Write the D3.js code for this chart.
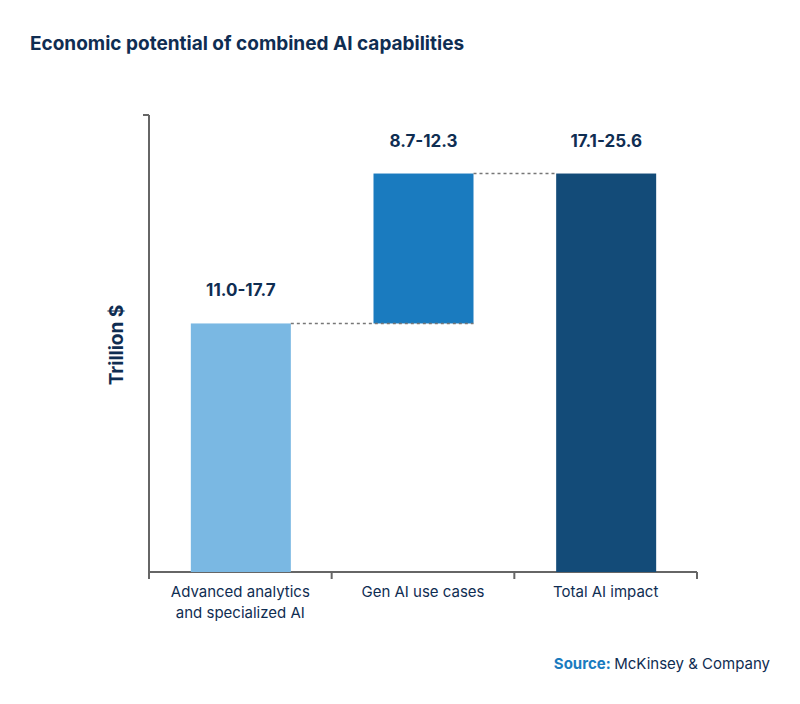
<!DOCTYPE html>
<html><head><meta charset="utf-8">
<script src="https://cdn.jsdelivr.net/npm/d3@7"></script>
<style>body{margin:0;background:#fff}</style></head>
<body><svg id="c" width="800" height="704"></svg>
<script>
const categories = ["Advanced analytics|and specialized AI", "Gen AI use cases", "Total AI impact"];
const values = [15.5, 9.35, null];
const rangeLabels = ["11.0-17.7", "8.7-12.3", "17.1-25.6"];
const colors = ["#7ab8e3", "#1a7bbf", "#134b78"];
const navy = "#0f2d52";
const font = "Inter, 'Noto Sans', sans-serif";

const svg = d3.select("#c");
const m = {l:149, r:697, t:115, b:572};
const x = d3.scaleBand().domain(categories).range([m.l, m.r]).paddingInner(0);
const y = d3.scaleLinear().domain([0, 28.5]).range([m.b, m.t]);

let cum = 0;
const bars = categories.map((c,i)=>{
  let y0, y1;
  if (values[i] === null) { y0 = 0; y1 = cum; }
  else { y0 = cum; y1 = cum + values[i]; cum = y1; }
  return {c, y0, y1, i};
});

svg.append("text").attr("x",30).attr("y",50).text("Economic potential of combined AI capabilities")
  .attr("font-family",font).attr("font-weight",700).attr("font-size",19).attr("fill",navy);

// axes
const g = svg.append("g");
g.append("line").attr("x1",m.l).attr("x2",m.l).attr("y1",m.t).attr("y2",m.b).attr("stroke","#666").attr("stroke-width",2);
g.append("line").attr("x1",m.l-6).attr("x2",m.l).attr("y1",m.t).attr("y2",m.t).attr("stroke","#666").attr("stroke-width",2);
g.append("line").attr("x1",m.l).attr("x2",m.r).attr("y1",m.b).attr("y2",m.b).attr("stroke","#666").attr("stroke-width",2);
const tickXs = categories.map(c=>x(c)).concat([m.r]);
tickXs.forEach(t=>g.append("line").attr("x1",t).attr("x2",t).attr("y1",m.b).attr("y2",m.b+7).attr("stroke","#666").attr("stroke-width",2));

const bw = 100;
const bx = c => x(c) + (x.bandwidth()-bw)/2 + 0.5;
svg.selectAll("rect.bar").data(bars).join("rect")
  .attr("x",d=>bx(d.c)).attr("width",bw)
  .attr("y",d=>y(d.y1)).attr("height",d=>y(d.y0)-y(d.y1))
  .attr("fill",(d,i)=>colors[i]);

// connectors
for (let i=0;i<bars.length-1;i++){
  svg.append("line").attr("x1",bx(bars[i].c)+bw).attr("x2",bx(bars[i+1].c)+(i+1===bars.length-1?0:bw))
    .attr("y1",y(bars[i].y1)).attr("y2",y(bars[i].y1))
    .attr("stroke","#777").attr("stroke-width",1.5).attr("stroke-dasharray","3,3");
}

svg.selectAll("text.val").data(bars).join("text")
  .attr("x",d=>bx(d.c)+bw/2).attr("y",d=>y(d.y1)-27)
  .attr("text-anchor","middle").text((d,i)=>rangeLabels[i])
  .attr("font-family",font).attr("font-weight",700).attr("font-size",17).attr("fill",navy);

categories.forEach(c=>{
  c.split("|").forEach((ln,j)=>{
    svg.append("text").attr("x",x(c)+x.bandwidth()/2).attr("y",597+j*21)
      .attr("text-anchor","middle").text(ln)
      .attr("font-family",font).attr("font-size",15).attr("fill",navy);
  });
});

svg.append("text").attr("transform","translate(123,345) rotate(-90)").attr("text-anchor","middle")
  .text("Trillion $").attr("font-family",font).attr("font-weight",700).attr("font-size",19).attr("fill",navy);

const s = svg.append("text").attr("x",770).attr("y",669).attr("text-anchor","end")
  .attr("font-family",font).attr("font-size",15);
s.append("tspan").text("Source: ").attr("font-weight",700).attr("fill","#1a7bbf");
s.append("tspan").text("McKinsey & Company").attr("fill",navy);
</script></body></html>
